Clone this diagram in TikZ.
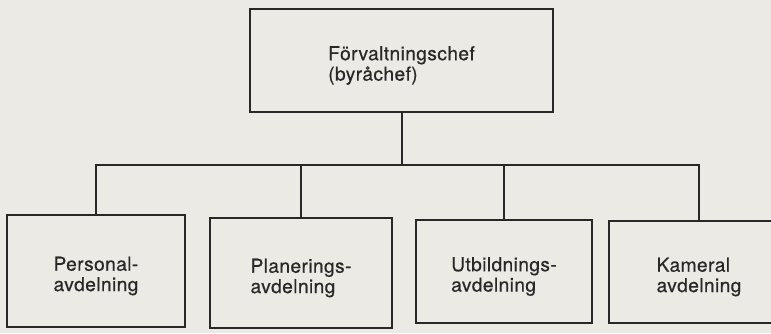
\documentclass[tikz,border=0pt]{standalone}
\usepackage{fontspec}
\setmainfont[LetterSpace=2, FakeBold=0.5]{TeX Gyre Heros}
\usetikzlibrary{positioning}
\definecolor{paper}{RGB}{236,234,229}
\definecolor{ink}{RGB}{40,40,40}
\tikzset{
  box/.style={rectangle, draw=ink, line width=1pt, text=ink, align=left, inner sep=0pt,
              font=\fontsize{9.6}{10.2}\selectfont},
  link/.style={draw=ink, line width=1pt}
}
\newcommand{\dept}[2]{\rule{0pt}{12pt}#1\\#2}

\begin{document}
\begin{tikzpicture}[x=0.5pt, y=-0.5pt]
\fill[paper] (0,0) rectangle (771,333);
\clip (0,0) rectangle (771,333);
\node[box, minimum width=151.5pt, minimum height=51.5pt] (chef) at (401.5,60.5) {\dept{Förvaltningschef}{(byråchef)}};
\coordinate (bus) at (0,165);
\node[box, minimum width=89pt, minimum height=56pt] (pers) at (96,271) {\dept{Personal-}{avdelning}};
\node[box, minimum width=91pt, minimum height=55pt] (plan) at (301,273) {\dept{Planerings-}{avdelning}};
\node[box, minimum width=88pt, minimum height=51.5pt] (utb) at (504,271.5) {\dept{Utbildnings-}{avdelning}};
\node[box, minimum width=90pt, minimum height=51pt] (kam) at (699,272) {\dept{Kameral}{avdelning}};
\draw[link] (chef.south) -- (chef.south |- bus);
\draw[link] (pers.north) |- (chef.south |- bus); \draw[link] (plan.north) |- (chef.south |- bus);
\draw[link] (utb.north) |- (chef.south |- bus); \draw[link] (kam.north) |- (chef.south |- bus);
\end{tikzpicture}
\end{document}
